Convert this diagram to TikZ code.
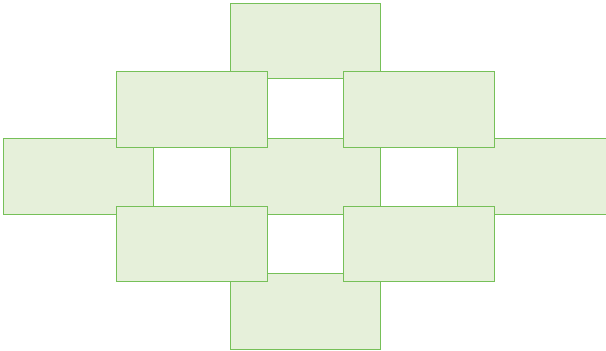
\documentclass[tikz,border=0pt]{standalone}
\definecolor{boxfill}{HTML}{E6F0DA}
\definecolor{boxline}{HTML}{76C058}
\begin{document}
\begin{tikzpicture}[x=1pt,y=-1pt,
  tile/.style={rectangle,draw=boxline,fill=boxfill,line width=1pt,
    minimum width=150.5pt,minimum height=75.5pt,inner sep=0pt,outer sep=0pt}]
\useasboundingbox (0,0) rectangle (606,351);
\clip (0,0) rectangle (606,351);
% back layer
\node[tile] (top)    at (305.5,41) {};
\node[tile] (left)   at (78.5,176.5) {};
\node[tile] (center) at (305.5,176.5) {};
\node[tile] (right)  at (532.5,176.5) {};
\node[tile] (bottom) at (305.5,311.5) {};
% front layer
\node[tile] (ul) at (192,109.5) {};
\node[tile] (ur) at (419,109.5) {};
\node[tile] (ll) at (192,244) {};
\node[tile] (lr) at (419,244) {};
\end{tikzpicture}
\end{document}
